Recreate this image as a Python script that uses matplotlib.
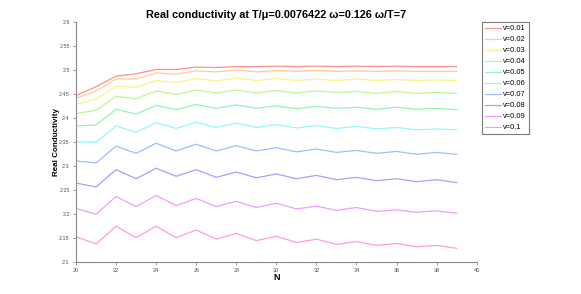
import numpy as np
from matplotlib import pyplot as plt

plt.rcParams['font.family'] = ['Liberation Sans', 'DejaVu Sans']

N = np.arange(20, 40)
labels = ['v=0.01', 'v=0.02', 'v=0.03', 'v=0.04', 'v=0.05',
          'v=0.06', 'v=0.07', 'v=0.08', 'v=0.09', 'v=0.1']

# real conductivity for each v, N = 20..39
v001 = [2.4465, 2.465, 2.487, 2.492, 2.501, 2.501, 2.506, 2.505, 2.507, 2.507,
        2.508, 2.507, 2.508, 2.507, 2.508, 2.507, 2.508, 2.507, 2.507, 2.507]
v002 = [2.441, 2.456, 2.481, 2.481, 2.494, 2.491, 2.498, 2.496, 2.500, 2.496,
        2.499, 2.497, 2.499, 2.497, 2.498, 2.497, 2.498, 2.497, 2.497, 2.497]
v003 = [2.428, 2.439, 2.466, 2.464, 2.478, 2.474, 2.482, 2.477, 2.483, 2.478,
        2.482, 2.478, 2.481, 2.478, 2.481, 2.478, 2.480, 2.478, 2.479, 2.478]
v004 = [2.409, 2.416, 2.445, 2.440, 2.456, 2.449, 2.458, 2.452, 2.458, 2.452,
        2.457, 2.452, 2.456, 2.453, 2.455, 2.451, 2.455, 2.451, 2.453, 2.451]
v005 = [2.383, 2.385, 2.418, 2.408, 2.426, 2.417, 2.428, 2.420, 2.427, 2.420,
        2.425, 2.419, 2.424, 2.420, 2.422, 2.418, 2.422, 2.418, 2.420, 2.417]
v006 = [2.350, 2.349, 2.383, 2.370, 2.390, 2.378, 2.391, 2.380, 2.389, 2.380,
        2.386, 2.379, 2.384, 2.378, 2.382, 2.377, 2.380, 2.375, 2.377, 2.375]
v007 = [2.310, 2.306, 2.341, 2.326, 2.347, 2.331, 2.345, 2.331, 2.342, 2.331,
        2.338, 2.329, 2.335, 2.328, 2.332, 2.326, 2.330, 2.324, 2.328, 2.324]
v008 = [2.264, 2.256, 2.292, 2.273, 2.295, 2.278, 2.292, 2.276, 2.287, 2.275,
        2.283, 2.273, 2.280, 2.271, 2.276, 2.269, 2.273, 2.267, 2.271, 2.265]
v009 = [2.211, 2.199, 2.236, 2.215, 2.238, 2.217, 2.232, 2.215, 2.226, 2.213,
        2.222, 2.210, 2.216, 2.207, 2.213, 2.205, 2.208, 2.203, 2.206, 2.201]
v010 = [2.152, 2.137, 2.174, 2.150, 2.174, 2.150, 2.166, 2.147, 2.159, 2.144,
        2.153, 2.140, 2.147, 2.136, 2.142, 2.134, 2.138, 2.131, 2.134, 2.128]

series = [v001, v002, v003, v004, v005, v006, v007, v008, v009, v010]
colors = ['#ff9090', '#ffcc94', '#f5f58a', '#bef594', '#94f5b8',
          '#94f8f8', '#9cbeff', '#ae9cff', '#ef9cff', '#ff9cdc']

fig = plt.figure(figsize=(5.81, 2.94), dpi=100)
ax = fig.add_axes([0.1308, 0.1099, 0.6897, 0.8153])

for y, c, lab in zip(series, colors, labels):
    ax.plot(N, y, color=c, linewidth=0.9, label=lab)

ax.set_xlim(20, 40)
ax.set_ylim(2.1, 2.6)
ax.set_xticks(np.arange(20, 41, 2))
ax.set_yticks([2.1, 2.15, 2.2, 2.25, 2.3, 2.35, 2.4, 2.45, 2.5, 2.55, 2.6])
ax.set_yticklabels(['2.1', '2.15', '2.2', '2.25', '2.3', '2.35', '2.4',
                    '2.45', '2.5', '2.55', '2.6'])

for side in ['top', 'right']:
    ax.spines[side].set_visible(False)
for side in ['left', 'bottom']:
    ax.spines[side].set_color('#8a8a8a')
    ax.spines[side].set_linewidth(0.8)
ax.tick_params(direction='out', length=2.5, width=0.6, color='#8a8a8a',
               labelsize=4.0, labelcolor='#555555', pad=2)

ax.set_title('Real conductivity at T/\u03bc=0.0076422 \u03c9=0.126 \u03c9/T=7',
             fontsize=7.8, fontweight='bold', pad=3)
ax.set_xlabel('N', fontsize=6.5, fontweight='bold', labelpad=0)
ax.set_ylabel('Real Conductivity', fontsize=5.8, fontweight='bold', labelpad=-1)

leg = ax.legend(loc='upper left', bbox_to_anchor=(1.012, 1.0), fontsize=5.4,
                handlelength=2.2, handletextpad=0.3, borderpad=0.4,
                labelspacing=0.5, fancybox=False, framealpha=1,
                borderaxespad=0)
leg.get_frame().set_edgecolor('#7a7a7a')
leg.get_frame().set_linewidth(0.8)

fig.savefig('out.png', dpi=100)
